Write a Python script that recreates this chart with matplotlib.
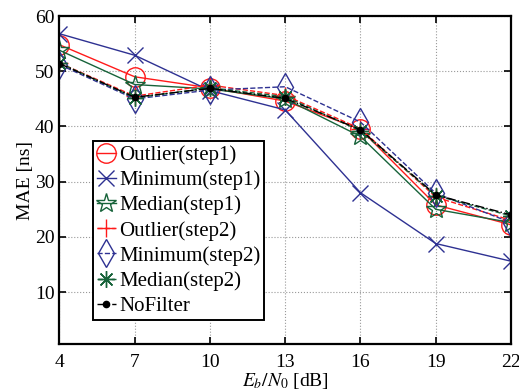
import matplotlib
matplotlib.use("Agg")
import matplotlib.pyplot as plt

plt.rcParams["font.family"] = ["Liberation Serif", "DejaVu Serif"]
plt.rcParams["mathtext.fontset"] = "stix"

snr_db = [4, 7, 10, 13, 16, 19, 22]

outlier_step1 = [54.8, 49.0, 47.0, 44.6, 39.5, 25.8, 22.2]
minimum_step1 = [56.8, 52.9, 46.5, 43.0, 28.0, 18.8, 15.6]
median_step1 = [53.8, 47.6, 46.8, 45.0, 38.2, 25.0, 22.6]
outlier_step2 = [51.5, 45.5, 47.5, 45.6, 39.6, 27.2, 23.0]
minimum_step2 = [51.2, 45.0, 46.6, 47.2, 40.8, 27.9, 22.6]
median_step2 = [51.5, 45.2, 47.0, 45.4, 39.2, 27.5, 23.8]
nofilter = [51.4, 45.3, 46.9, 45.1, 39.4, 27.6, 24.0]

series_labels = [
    "Outlier(step1)",
    "Minimum(step1)",
    "Median(step1)",
    "Outlier(step2)",
    "Minimum(step2)",
    "Median(step2)",
    "NoFilter",
]

RED = "#ff1a1a"
BLUE = "#2e3192"
GREEN = "#17633a"

styles = [
    dict(color=RED, ls="-", marker="o", ms=14, mfc="none"),
    dict(color=BLUE, ls="-", marker="x", ms=11, mew=1.0),
    dict(color=GREEN, ls="-", marker="*", ms=15, mfc="none"),
    dict(color=RED, ls="--", marker="+", ms=13, mew=1.0),
    dict(color=BLUE, ls="--", marker="d", ms=14, mfc="none"),
    dict(color=GREEN, ls="--", marker=(8, 2, 0), ms=12, mew=1.0),
    dict(color="black", ls="-.", marker=".", ms=9),
]

series = [outlier_step1, minimum_step1, median_step1, outlier_step2,
          minimum_step2, median_step2, nofilter]

fig = plt.figure(figsize=(5.19, 3.92), dpi=100)
ax = fig.add_axes([0.1146, 0.1224, 0.8700, 0.8366])

for values, label, st in zip(series, series_labels, styles):
    ax.plot(snr_db, values, label=label, lw=1.0, **st)

ax.set_xlim(4, 22)
ax.set_ylim(0.6, 60)
ax.set_xticks(snr_db)
ax.set_yticks([10, 20, 30, 40, 50, 60])
ax.grid(True, ls=":", color="#999999", lw=0.8)
ax.tick_params(direction="in", top=True, right=True, labelsize=14, length=5, width=1.2)
ax.tick_params(axis="x", pad=7)
for spine in ax.spines.values():
    spine.set_linewidth(1.6)

ax.set_xlabel(r"$E_b/N_0$ [dB]", fontsize=14, labelpad=0)
ax.set_ylabel("MAE [ns]", fontsize=14, labelpad=1)

leg = ax.legend(loc="lower left", bbox_to_anchor=(0.074, 0.073), borderaxespad=0,
                fontsize=15, handlelength=0.9, handletextpad=0.15, labelspacing=0.26,
                borderpad=0.2, fancybox=False, framealpha=1, edgecolor="black")
leg.get_frame().set_linewidth(1.4)

fig.savefig("out.png", dpi=100)
